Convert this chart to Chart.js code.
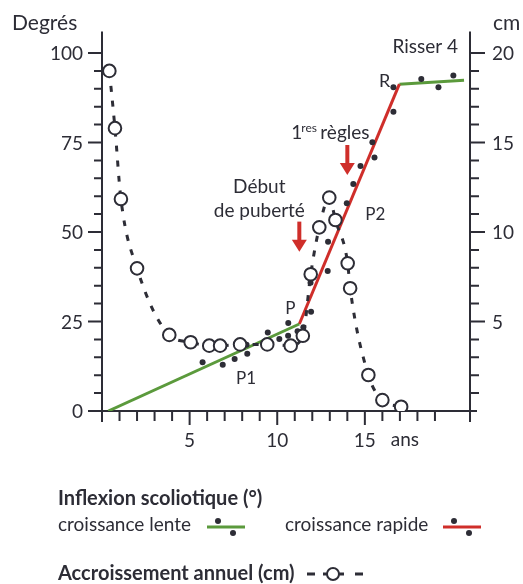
<!DOCTYPE html>
<html>
<head>
<meta charset="utf-8">
<script src="https://cdn.jsdelivr.net/npm/chart.js@4.4.0/dist/chart.umd.min.js"></script>
<style>
html, body { margin: 0; padding: 0; background: #fff; }
</style>
</head>
<body>
<canvas id="canvas" width="523" height="584"></canvas>
<script>
// Accroissement annuel (cm) - open circles, right axis
var growthAge = [0.42, 0.74, 1.08, 2.0, 3.84, 5.06, 6.12, 6.74, 7.88, 9.43, 10.77, 11.46, 11.91, 12.40, 12.97, 13.32, 14.02, 14.16, 15.2, 16.0, 17.07];
var growthCm = [19.0, 15.8, 11.84, 7.97, 4.25, 3.84, 3.65, 3.65, 3.72, 3.72, 3.65, 4.2, 7.64, 10.26, 11.92, 10.67, 8.25, 6.86, 2.01, 0.61, 0.24];

// Inflexion scoliotique (degrés) - black dots
var slowAge = [5.74, 6.89, 7.57, 8.29, 8.25, 9.46, 10.12, 10.63, 10.62, 11.16, 11.49, 18.22, 19.2, 20.05];
var slowDeg = [13.6, 12.9, 14.5, 16.0, 18.5, 21.9, 20.1, 24.6, 21.0, 22.3, 23.4, 92.7, 90.4, 93.7];
var fastAge = [11.93, 11.90, 12.88, 12.90, 13.97, 14.34, 14.75, 15.55, 15.43, 16.63, 16.63];
var fastDeg = [27.7, 35.8, 39.1, 47.3, 58.0, 63.4, 68.4, 70.8, 75.1, 83.6, 90.4];

// trend lines: lente (0 -> P), rapide (P -> R), lente (R -> Risser 4)
var lenteAge = [0.36, 11.26];
var lenteDeg = [0, 24.3];
var rapideAge = [11.26, 16.97];
var rapideDeg = [24.3, 91.3];
var risserAge = [16.97, 20.66];
var risserDeg = [91.3, 92.4];

var pubertyAge = 11.26;
var menarcheAge = 14.0;

// tick labels
var degTicks = [0, 25, 50, 75, 100];
var cmTicks = [5, 10, 15, 20];
var ageTicks = [5, 10, 15];
var ageUnitAt = 17;

var xMax = 21, degMax = 106;

var INK = '#2d2d36';
var GREEN = '#5b9a3c';
var RED = '#cf2e2a';
var FONT = 'Lato, "Open Sans", sans-serif';

function pts(xs, ys) {
	return xs.map(function(v, i) { return {x: v, y: ys[i]}; });
}

function redArrow(ctx, x, y0, y1) {
	ctx.save();
	ctx.strokeStyle = RED;
	ctx.fillStyle = RED;
	ctx.lineWidth = 4;
	ctx.beginPath();
	ctx.moveTo(x, y0);
	ctx.lineTo(x, y1 - 10);
	ctx.stroke();
	ctx.beginPath();
	ctx.moveTo(x - 7.5, y1 - 12);
	ctx.lineTo(x + 7.5, y1 - 12);
	ctx.lineTo(x, y1);
	ctx.closePath();
	ctx.fill();
	ctx.restore();
}

var axesPlugin = {
	id: 'axes',
	beforeDatasetsDraw: function(chart) {
		var ctx = chart.ctx, xs = chart.scales.x, yl = chart.scales.y, yr = chart.scales.yR;
		var x0 = xs.getPixelForValue(0), x1 = xs.getPixelForValue(xMax);
		var yb = yl.getPixelForValue(0), yt = yl.getPixelForValue(degMax);
		var i, p, major;
		ctx.save();
		ctx.strokeStyle = INK;
		ctx.lineWidth = 2;
		ctx.beginPath();
		ctx.moveTo(x0 - 9, yb); ctx.lineTo(x1 + 7, yb);
		ctx.moveTo(x0, yt); ctx.lineTo(x0, yb + 11);
		ctx.moveTo(x1, yt); ctx.lineTo(x1, yb + 11);
		// y ticks every 5 degrees (= 1 cm)
		for (i = 5; i <= 100; i += 5) {
			p = yl.getPixelForValue(i);
			major = i % 25 === 0;
			ctx.moveTo(x0 - (major ? 14 : 8), p); ctx.lineTo(x0, p);
			ctx.moveTo(x1, p); ctx.lineTo(x1 + (major ? 15 : 9), p);
		}
		ctx.moveTo(x0 - 14, yb); ctx.lineTo(x0, yb);
		// x ticks every year
		for (i = 1; i <= 19; i++) {
			p = xs.getPixelForValue(i);
			ctx.moveTo(p, yb); ctx.lineTo(p, yb + (i % 5 === 0 ? 14 : 10));
		}
		ctx.stroke();

		ctx.fillStyle = INK;
		ctx.font = '19px ' + FONT;
		ctx.textBaseline = 'middle';
		ctx.textAlign = 'right';
		degTicks.forEach(function(v) {
			ctx.fillText(String(v), x0 - 19, yl.getPixelForValue(v) + 1);
		});
		ctx.textAlign = 'left';
		cmTicks.forEach(function(v) {
			ctx.fillText(String(v), x1 + 22, yr.getPixelForValue(v) + 1);
		});
		ctx.textAlign = 'center';
		ageTicks.forEach(function(v) {
			ctx.fillText(String(v), xs.getPixelForValue(v), yb + 30);
		});
		ctx.fillText('ans', xs.getPixelForValue(ageUnitAt) + 5, yb + 29);

		ctx.font = '21px ' + FONT;
		ctx.textAlign = 'left';
		ctx.fillText('Degrés', 12, 23);
		ctx.fillText('cm', 493, 23);
		ctx.restore();
	},
	afterDraw: function(chart) {
		var ctx = chart.ctx, xs = chart.scales.x, yl = chart.scales.y;
		ctx.save();
		ctx.fillStyle = INK;
		ctx.textBaseline = 'middle';
		ctx.font = '17px ' + FONT;
		ctx.textAlign = 'center';
		ctx.fillText('P', xs.getPixelForValue(10.75), yl.getPixelForValue(28.6));
		ctx.fillText('P1', xs.getPixelForValue(8.22), yl.getPixelForValue(9.2));
		ctx.fillText('P2', xs.getPixelForValue(15.6), yl.getPixelForValue(55));
		ctx.font = '18px ' + FONT;
		ctx.textAlign = 'right';
		ctx.fillText('R', xs.getPixelForValue(16.45), yl.getPixelForValue(92));
		ctx.font = '19px ' + FONT;
		ctx.textAlign = 'center';
		ctx.fillText('Risser 4', xs.getPixelForValue(18.45), yl.getPixelForValue(101.6));
		ctx.fillText('Début', xs.getPixelForValue(pubertyAge) - 40, yl.getPixelForValue(62.7));
		ctx.fillText('de puberté', xs.getPixelForValue(pubertyAge) - 40, yl.getPixelForValue(55.9));

		// 1res règles
		var mx = xs.getPixelForValue(menarcheAge);
		var my = yl.getPixelForValue(77.7);
		ctx.textAlign = 'left';
		ctx.fillText('1', mx - 56, my);
		ctx.font = '12px ' + FONT;
		ctx.fillText('res', mx - 46, my - 5);
		ctx.font = '19px ' + FONT;
		ctx.fillText('règles', mx - 27, my);

		redArrow(ctx, mx, yl.getPixelForValue(74.3), yl.getPixelForValue(65.9));
		redArrow(ctx, xs.getPixelForValue(pubertyAge), yl.getPixelForValue(52.9), yl.getPixelForValue(44.5));

		// legend
		ctx.textAlign = 'left';
		ctx.font = 'bold 20px ' + FONT;
		ctx.fillText('Inflexion scoliotique (°)', 58, 499);
		ctx.font = '19px ' + FONT;
		ctx.fillText('croissance lente', 58, 525);
		ctx.fillText('croissance rapide', 285, 525);
		ctx.lineWidth = 3;
		ctx.strokeStyle = GREEN;
		ctx.beginPath(); ctx.moveTo(207, 527); ctx.lineTo(245, 527); ctx.stroke();
		ctx.strokeStyle = RED;
		ctx.beginPath(); ctx.moveTo(443, 527); ctx.lineTo(481, 527); ctx.stroke();
		[[218, 521], [233, 533], [454, 521], [469, 533]].forEach(function(d) {
			ctx.beginPath(); ctx.arc(d[0], d[1], 3, 0, Math.PI * 2); ctx.fill();
		});
		ctx.font = 'bold 20px ' + FONT;
		ctx.fillText('Accroissement annuel (cm)', 58, 574);
		ctx.strokeStyle = INK;
		ctx.lineWidth = 3;
		ctx.beginPath();
		ctx.moveTo(307, 574); ctx.lineTo(315, 574);
		ctx.moveTo(323, 574); ctx.lineTo(344, 574);
		ctx.moveTo(355, 574); ctx.lineTo(363, 574);
		ctx.stroke();
		ctx.lineWidth = 2;
		ctx.fillStyle = '#fff';
		ctx.beginPath(); ctx.arc(333, 574, 6, 0, Math.PI * 2); ctx.fill(); ctx.stroke();
		ctx.restore();
	}
};

var ctx = document.getElementById('canvas').getContext('2d');
window.myChart = new Chart(ctx, {
	type: 'scatter',
	data: {
		datasets: [{
			label: 'Accroissement annuel (cm)',
			data: pts(growthAge, growthCm),
			yAxisID: 'yR',
			showLine: true,
			borderColor: INK,
			borderWidth: 3,
			borderDash: [6, 9],
			cubicInterpolationMode: 'monotone',
			pointRadius: 6.3,
			pointBackgroundColor: '#fff',
			pointBorderColor: INK,
			pointBorderWidth: 2,
			order: 0
		}, {
			label: 'croissance lente',
			data: pts(slowAge, slowDeg),
			yAxisID: 'y',
			pointRadius: 3,
			pointBorderWidth: 0,
			pointBackgroundColor: INK,
			order: 1
		}, {
			label: 'croissance rapide',
			data: pts(fastAge, fastDeg),
			yAxisID: 'y',
			pointRadius: 3,
			pointBorderWidth: 0,
			pointBackgroundColor: INK,
			order: 2
		}, {
			data: pts(lenteAge, lenteDeg),
			yAxisID: 'y',
			showLine: true,
			borderColor: GREEN,
			borderWidth: 3,
			pointRadius: 0,
			order: 3
		}, {
			data: pts(rapideAge, rapideDeg),
			yAxisID: 'y',
			showLine: true,
			borderColor: RED,
			borderWidth: 3,
			pointRadius: 0,
			order: 3
		}, {
			data: pts(risserAge, risserDeg),
			yAxisID: 'y',
			showLine: true,
			borderColor: GREEN,
			borderWidth: 3,
			pointRadius: 0,
			order: 3
		}]
	},
	options: {
		responsive: false,
		animation: false,
		events: [],
		layout: {
			padding: { left: 102, right: 53, top: 31.5, bottom: 173 }
		},
		scales: {
			x: { type: 'linear', min: 0, max: xMax, display: false },
			y: { type: 'linear', min: 0, max: degMax, display: false },
			yR: { type: 'linear', min: 0, max: degMax / 5, display: false, position: 'right' }
		},
		plugins: {
			legend: { display: false },
			tooltip: { enabled: false }
		}
	},
	plugins: [axesPlugin]
});
</script>
</body>
</html>
